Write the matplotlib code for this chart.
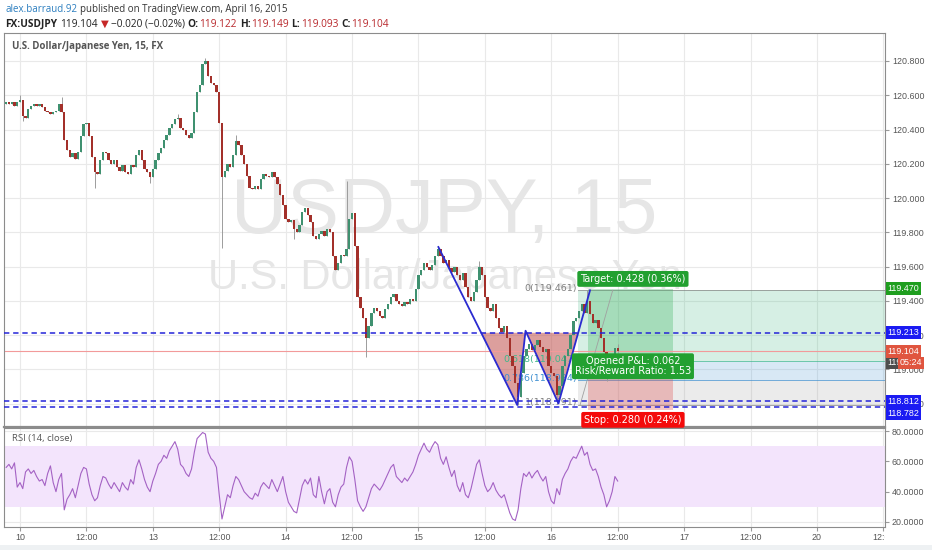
import matplotlib
matplotlib.use("Agg")
import matplotlib.pyplot as plt
from matplotlib.patches import Rectangle, Polygon
from matplotlib.transforms import Bbox, TransformedBbox
import numpy as np

plt.rcParams["font.family"] = ["Liberation Sans", "DejaVu Sans"]

# ---- data (30-min bars, bar 0 = Apr 10 00:00) --------------------------
FIRST_BAR = -5
FIRST_OPEN = 120.55
closes = [
    120.56, 120.55, 120.56, 120.54, 120.56, 120.57, 120.48, 120.47, 120.52, 120.54, 120.55, 120.54,
    120.55, 120.53, 120.51, 120.50, 120.49, 120.50, 120.51, 120.55, 120.50, 120.34, 120.28, 120.24,
    120.26, 120.23, 120.27, 120.36, 120.43, 120.44, 120.36, 120.24, 120.15, 120.14, 120.22, 120.27,
    120.26, 120.22, 120.20, 120.22, 120.18, 120.16, 120.19, 120.15, 120.14, 120.19, 120.18, 120.25,
    120.28, 120.22, 120.17, 120.15, 120.12, 120.17, 120.22, 120.26, 120.29, 120.34, 120.37, 120.41,
    120.43, 120.46, 120.47, 120.41, 120.40, 120.37, 120.35, 120.38, 120.50, 120.62, 120.66, 120.78,
    120.80, 120.71, 120.67, 120.66, 120.62, 120.44, 120.12, 120.16, 120.20, 120.18, 120.25, 120.33,
    120.31, 120.25, 120.20, 120.13, 120.06, 120.05, 120.07, 120.05, 120.11, 120.14, 120.13, 120.12,
    120.15, 120.12, 120.08, 120.02, 119.96, 119.88, 119.86, 119.87, 119.82, 119.80, 119.84, 119.92,
    119.94, 119.90, 119.86, 119.78, 119.76, 119.79, 119.81, 119.78, 119.82, 119.80, 119.66, 119.58,
    119.62, 119.67, 119.66, 119.70, 119.88, 119.91, 119.72, 119.42, 119.36, 119.30, 119.18, 119.25,
    119.33, 119.36, 119.34, 119.31, 119.30, 119.35, 119.38, 119.42, 119.44, 119.40, 119.38, 119.37,
    119.39, 119.38, 119.41, 119.40, 119.47, 119.55, 119.58, 119.62, 119.60, 119.58, 119.61, 119.66,
    119.70, 119.66, 119.62, 119.64, 119.59, 119.57, 119.60, 119.55, 119.52, 119.56, 119.48, 119.42,
    119.40, 119.45, 119.52, 119.60, 119.55, 119.42, 119.36, 119.34, 119.38, 119.30, 119.24, 119.22,
    119.25, 119.18, 119.08, 119.02, 118.92, 118.84, 118.98, 119.08, 119.12, 119.15, 119.11, 119.14,
    119.17, 119.13, 119.10, 119.12, 119.02, 118.98, 118.96, 118.85, 118.90, 119.02, 119.08, 119.12,
    119.20, 119.28, 119.30, 119.34, 119.38, 119.33, 119.40, 119.32, 119.27, 119.29, 119.24, 119.18,
    119.10, 118.98, 119.02, 119.08, 119.122, 119.104,
]
# notable wicks: bar -> price
wick_highs = {0: 120.60, 15: 120.59, 57: 120.49, 67: 120.82, 78: 120.37, 118: 120.10,
              151: 119.72, 166: 119.63, 205: 119.46, 216: 119.149}
wick_lows = {1: 120.45, 27: 120.06, 47: 120.09, 73: 119.71, 99: 119.76, 125: 119.07,
             180: 118.79, 194: 118.80, 212: 118.93, 216: 119.093}

rsi = [
    56, 58, 55, 59, 43, 46, 42, 53, 55, 52, 54, 50,
    47, 48, 44, 52, 57, 46, 40, 48, 52, 28, 35, 38,
    42, 36, 44, 52, 56, 55, 45, 38, 34, 36, 44, 50,
    49, 45, 42, 46, 43, 40, 46, 43, 41, 48, 45, 56,
    61, 55, 48, 43, 40, 47, 52, 58, 60, 64, 62, 67,
    70, 73, 68, 58, 56, 52, 50, 55, 66, 75, 77, 79,
    78, 66, 62, 60, 56, 38, 22, 30, 38, 36, 44, 50,
    48, 44, 40, 38, 36, 35, 39, 37, 43, 46, 44, 42,
    48, 44, 40, 45, 50, 40, 33, 30, 27, 26, 35, 44,
    48, 45, 49, 38, 36, 50, 40, 32, 40, 42, 33, 30,
    38, 43, 45, 56, 63, 60, 48, 34, 30, 27, 30, 36,
    42, 45, 43, 41, 44, 48, 52, 56, 58, 50, 48, 46,
    49, 47, 50, 53, 58, 64, 68, 72, 68, 66, 70, 73,
    71, 62, 58, 63, 56, 50, 54, 44, 40, 46, 38, 36,
    42, 50, 58, 61, 52, 44, 40, 42, 46, 41, 38, 36,
    38, 32, 26, 22, 21, 28, 42, 52, 50, 53, 49, 52,
    54, 50, 47, 50, 40, 34, 32, 42, 38, 48, 52, 55,
    60, 63, 62, 66, 70, 64, 66, 58, 54, 55, 50, 43,
    38, 30, 34, 40, 50, 47,
]

day_labels = ["10", "12:00", "13", "12:00", "14", "12:00", "15", "12:00",
              "16", "12:00", "17", "12:00", "20", "12:00"]
day_ticks = [0, 24, 48, 72, 96, 120, 144, 168, 192, 216, 240, 264, 288, 312]
price_ticks = [118.8, 119.0, 119.2, 119.4, 119.6, 119.8, 120.0, 120.2, 120.4, 120.6, 120.8]
rsi_ticks = [20, 40, 60, 80]

# drawings
hlines_blue = [119.213, 118.812, 118.782]
last_price = 119.104
pattern_x = [151.2, 179.7, 182.7, 194.6, 206.0]
pattern_y = [119.714, 118.791, 119.225, 118.800, 119.461]
fib_x0 = 201.7
fib_p0, fib_p1 = 119.461, 118.791
fib_ratios = [0, 0.618, 0.786, 1]
entry, target, stop = 119.042, 119.470, 118.762
pos_x = (205.3, 236.0)

W, H = 932, 550
fig = plt.figure(figsize=(W / 100, H / 100), dpi=100)
fig.patch.set_facecolor("white")


def px_box(l, t, r, b):
    return [l / W, 1 - b / H, (r - l) / W, (b - t) / H]


ax = fig.add_axes(px_box(4, 33, 885, 427))
rx = fig.add_axes(px_box(4, 428, 885, 527), sharex=ax)
XL = (-5.78, 312.6)
ax.set_xlim(*XL)
ax.set_ylim(118.6628, 120.9635)
rx.set_ylim(16.7, 81.98)

GRID = "#e9e9e9"
SPINE = "#8c8c8c"
for a in (ax, rx):
    a.set_axisbelow(True)
    a.grid(True, color=GRID, lw=0.8)
    for s in a.spines.values():
        s.set_color(SPINE)
        s.set_linewidth(0.8)
    a.yaxis.tick_right()
    a.tick_params(axis="y", length=3, color="#9a9a9a", labelsize=6.4,
                  labelcolor="#555555", pad=2)
ax.spines["bottom"].set_linewidth(1.6)
ax.set_yticks(price_ticks)
ax.set_yticklabels([f"{p:.3f}" for p in price_ticks])
rx.set_yticks(rsi_ticks)
rx.set_yticklabels([f"{v:.4f}" for v in rsi_ticks])
rx.set_xticks(day_ticks)
rx.set_xticklabels(day_labels)
rx.tick_params(axis="x", length=3, color="#9a9a9a", labelsize=6.4,
               labelcolor="#555555", pad=1.5)
ax.tick_params(axis="x", length=0, labelbottom=False)
clip = TransformedBbox(Bbox([[0, 0], [885 / W, 1]]), fig.transFigure)
for lbl in rx.get_xticklabels():
    lbl.set_clip_on(True)
    lbl.set_clip_box(clip)

# watermark
ax.text(0.5, 0.492, "USDJPY, 15", transform=ax.transAxes, ha="center",
        va="baseline", fontsize=56, color="#e6e6e6", zorder=0.8)
ax.text(0.5, 0.350, "U.S. Dollar/Japanese Yen", transform=ax.transAxes,
        ha="center", va="baseline", fontsize=30, color="#e6e6e6", zorder=0.8)
ax.text(0.009, 0.9645, "U.S. Dollar/Japanese Yen, 15, FX", transform=ax.transAxes,
        ha="left", va="center", fontsize=7, color="#555555", weight="bold",
        family=["Open Sans", "DejaVu Sans"])

# candles
c = np.array(closes)
o = np.r_[FIRST_OPEN, c[:-1]]
x = np.arange(len(c)) + FIRST_BAR
hi = np.maximum(o, c)
lo = np.minimum(o, c)
for b, v in wick_highs.items():
    hi[b - FIRST_BAR] = max(hi[b - FIRST_BAR], v)
for b, v in wick_lows.items():
    lo[b - FIRST_BAR] = min(lo[b - FIRST_BAR], v)
up = c >= o
ax.vlines(x, lo, hi, color="#9c9c9c", lw=0.7, zorder=3)
ax.bar(x, np.maximum(np.abs(c - o), 0.006), bottom=np.minimum(o, c), width=0.85,
       color=np.where(up, "#3f9170", "#a3302a"), lw=0, zorder=3.2)

# fib retracement zones
fib_prices = [fib_p0 - r * (fib_p0 - fib_p1) for r in fib_ratios]
fib_cols = ["#808080", "#3db88a", "#3d8fd1", "#808080"]
zone_cols = [("#34b37a", 0.20), ("#3d8fd1", 0.20), ("#8c8c8c", 0.17)]
for k, (zc, za) in enumerate(zone_cols):
    ax.add_patch(Rectangle((fib_x0, fib_prices[k + 1]), XL[1] - fib_x0,
                           fib_prices[k] - fib_prices[k + 1], fc=zc, alpha=za,
                           lw=0, zorder=1.5))
for r, p, col in zip(fib_ratios, fib_prices, fib_cols):
    ax.plot([fib_x0, XL[1]], [p, p], color=col, lw=0.7, alpha=0.7, zorder=1.6)
    ax.annotate(f"{r:g}({p:.3f})", xy=(fib_x0 - 0.4, p), xytext=(0, 1.5),
                textcoords="offset points", ha="right", va="center", fontsize=6.8,
                color=col, family="DejaVu Sans", zorder=2.5)
ax.plot([202.4, 214.2], [fib_p1, fib_p0], color="#a0a0a0", lw=0.6, zorder=2.6)

# long position tool
ax.add_patch(Rectangle((pos_x[0], entry), pos_x[1] - pos_x[0], target - entry,
                       fc="#3fb462", alpha=0.32, lw=0, zorder=1.7))
ax.add_patch(Rectangle((pos_x[0], stop), pos_x[1] - pos_x[0], entry - stop,
                       fc="#e05050", alpha=0.32, lw=0, zorder=1.7))

# double bottom pattern
top = hlines_blue[0]
t1 = (pattern_y[0] - top) / (pattern_y[0] - pattern_y[1])
p1x = pattern_x[0] + t1 * (pattern_x[1] - pattern_x[0])
t2 = (top - pattern_y[3]) / (pattern_y[4] - pattern_y[3])
p2x = pattern_x[3] + t2 * (pattern_x[4] - pattern_x[3])
poly = [(p1x, top), (pattern_x[1], pattern_y[1]), (pattern_x[2], pattern_y[2]),
        (pattern_x[3], pattern_y[3]), (p2x, top)]
ax.add_patch(Polygon(poly, closed=True, fc="#c0504d", alpha=0.55, lw=0, zorder=2))
ax.plot(pattern_x, pattern_y, color="#2b2bd0", lw=1.3, zorder=4.5)

# horizontal lines
ax.axhline(last_price, color="#f29a9a", lw=0.8, zorder=2.2)
for p in hlines_blue:
    ax.axhline(p, color="#2424d8", lw=1.1, ls=(0, (3.5, 2.5)), zorder=4.6)

# position labels
box_x = 221.5
lab = dict(ha="center", fontsize=7, color="white", family="DejaVu Sans",
           textcoords="offset points", zorder=7, annotation_clip=False)
ax.annotate("Target: 0.428 (0.36%)", xy=(box_x, target), xytext=(0, 3.5), va="bottom",
            bbox=dict(boxstyle="round,pad=0.3,rounding_size=0.2", fc="#22a030", ec="none"), **lab)
ax.annotate("Opened P&L: 0.062\nRisk/Reward Ratio: 1.53", xy=(box_x, entry), xytext=(0, -3),
            va="center", linespacing=1.0,
            bbox=dict(boxstyle="round,pad=0.3,rounding_size=0.2", fc="#22a030", ec="none"), **lab)
ax.annotate("Stop: 0.280 (0.24%)", xy=(box_x, stop), xytext=(0, -3.5), va="top",
            bbox=dict(boxstyle="round,pad=0.3,rounding_size=0.2", fc="#f40a0a", ec="none"), **lab)


# price tags on the right axis
def tag(a, value, text, fc, dx=1.8, dy=0, z=6):
    a.annotate(text, xy=(1, value), xycoords=a.get_yaxis_transform(), xytext=(dx, dy),
               textcoords="offset points", ha="left", va="center", color="white",
               fontsize=6.4, bbox=dict(boxstyle="square,pad=0.22", fc=fc, ec="none"),
               zorder=z, annotation_clip=False)


tag(ax, target, "119.470", "#1f9e1f")
tag(ax, 119.213, "119.213", "#1b1bf2")
tag(ax, last_price, "119.104", "#e0553f", z=6.5)
tag(ax, entry, "119.042", "#4d4d4d")
tag(ax, last_price, "05:24", "#e0553f", dx=10.5, dy=-8.3, z=7)
tag(ax, 118.812, "118.812", "#1b1bf2")
tag(ax, 118.782, "118.782", "#1b1bf2", dy=-4.8)

# RSI pane
rx.axhspan(30, 70, color="#f3e4fc", lw=0, zorder=0.6)
rx.plot(x, rsi, color="#a462c4", lw=0.8, zorder=3)
rx.text(0.009, 0.89, "RSI (14, close)", transform=rx.transAxes, ha="left", va="center",
        fontsize=6.8, color="#555555", family=["Open Sans", "DejaVu Sans"])

# header
HF = ["Open Sans", "DejaVu Sans"]


def header(parts, y, size):
    prev = fig.text(5 / W, 1 - y / H, parts[0][0], color=parts[0][1], weight=parts[0][2],
                    fontsize=size, family=HF, va="bottom", ha="left")
    for s, col, wt, gap in parts[1:]:
        prev = ax.annotate(s, xy=(1, 0), xycoords=prev, xytext=(gap, 0),
                           textcoords="offset points", va="bottom", ha="left",
                           color=col, weight=wt, fontsize=size, family=HF,
                           annotation_clip=False)


DARK, RED = "#222222", "#b8282c"
header([("alex.barraud.92", "#2a7dbf", "normal"),
        ("published on TradingView.com, April 16, 2015", "#333333", "normal", 2.0)], 15, 7.0)
header([("FX:USDJPY", DARK, "bold"),
        ("119.104", DARK, "normal", 2.2), ("▼", "#c62828", "normal", 2.2),
        ("−0.020 (−0.02%)", DARK, "normal", 1.5), ("O:", DARK, "bold", 2.2),
        ("119.122", RED, "normal", 0.3), ("H:", DARK, "bold", 2.2),
        ("119.149", RED, "normal", 0.3), ("L:", DARK, "bold", 2.2),
        ("119.093", RED, "normal", 0.3), ("C:", DARK, "bold", 2.2),
        ("119.104", RED, "normal", 0.3)], 30, 7.3)

fig.add_artist(Rectangle((0, 0), 1, 5 / H, transform=fig.transFigure, fc="#eef1f3",
                         ec="none"))

fig.savefig("out.png", dpi=100)
